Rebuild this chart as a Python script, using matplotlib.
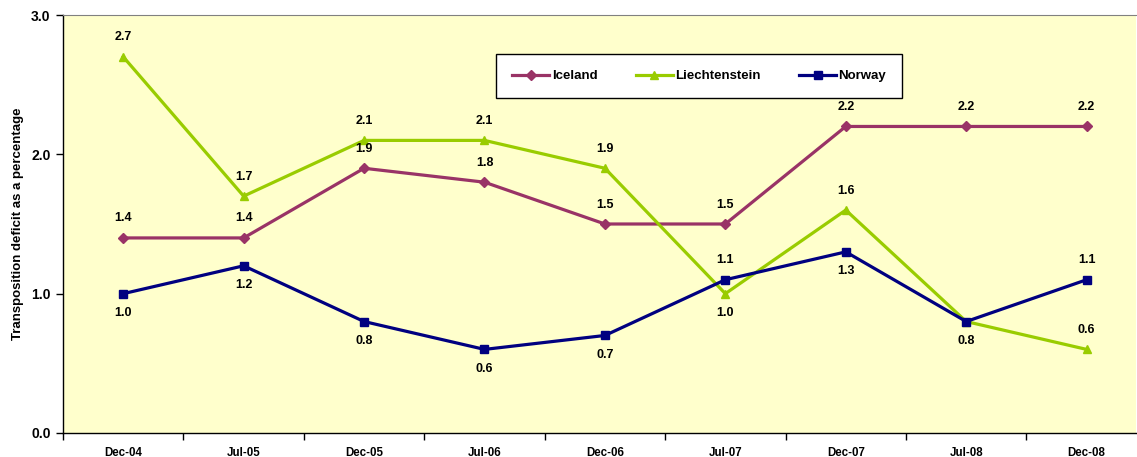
import matplotlib.pyplot as plt

plt.rcParams["font.family"] = ["Liberation Sans", "DejaVu Sans"]
plt.rcParams["font.weight"] = "bold"

periods = ["Dec-04", "Jul-05", "Dec-05", "Jul-06", "Dec-06", "Jul-07", "Dec-07", "Jul-08", "Dec-08"]
iceland = [1.4, 1.4, 1.9, 1.8, 1.5, 1.5, 2.2, 2.2, 2.2]
liechtenstein = [2.7, 1.7, 2.1, 2.1, 1.9, 1.0, 1.6, 0.8, 0.6]
norway = [1.0, 1.2, 0.8, 0.6, 0.7, 1.1, 1.3, 0.8, 1.1]

# where each data label goes: "a" above, "b" below, None hidden
iceland_pos = ["a"] * 9
liechtenstein_pos = ["a", "a", "a", "a", "a", "b", "a", None, "a"]
norway_pos = ["b", "b", "b", "b", "b", "a", "b", "b", "a"]

series = [
    ("Iceland", iceland, iceland_pos, "#993366", "D", 5),
    ("Liechtenstein", liechtenstein, liechtenstein_pos, "#99CC00", "^", 6),
    ("Norway", norway, norway_pos, "#000080", "s", 5.5),
]

fig = plt.figure(figsize=(11.37, 4.57), dpi=100)
ax = fig.add_axes([63 / 1137, 1 - 433 / 457, 1073 / 1137, 418 / 457])
ax.set_facecolor("#FFFFCC")

x = list(range(len(periods)))
for name, vals, pos, color, marker, ms in series:
    ax.plot(x, vals, color=color, lw=2.3, marker=marker, ms=ms, label=name)
    for xi, v, p in zip(x, vals, pos):
        if p is None:
            continue
        dy = 14 if p == "a" else -14
        ax.annotate(f"{v:.1f}", (xi, v), xytext=(0, dy), textcoords="offset points",
                    ha="center", va="center", fontsize=9, fontweight="bold")

ax.set_yticks([0, 1, 2, 3])
ax.set_yticklabels([f"{t:.1f}" for t in [0, 1, 2, 3]], fontsize=10, fontweight="bold")
ax.set_xticks(x)
ax.set_xticklabels(periods, fontsize=8.3, fontweight="bold")
ax.set_xticks([i + 0.5 for i in range(-1, 9)], minor=True)
ax.set_xlim(-0.5, 8.41)
ax.set_ylim(0, 3.0)
ax.tick_params(axis="x", which="major", length=0, pad=10)
ax.tick_params(axis="x", which="minor", length=5, direction="out", width=1)
ax.tick_params(axis="y", length=5, direction="out", width=1, pad=4)

ax.spines["right"].set_visible(False)
ax.spines["top"].set_color("#808080")
ax.spines["left"].set_linewidth(1)
ax.spines["bottom"].set_linewidth(1)

ax.set_ylabel("Transposition deficit as a percentage", fontsize=9.5, fontweight="bold", labelpad=5)

leg = ax.legend(loc="center", bbox_to_anchor=(0.593, 0.854), ncol=3, frameon=True,
                fancybox=False, edgecolor="black", framealpha=1,
                columnspacing=2.9, handlelength=2.8, borderpad=1.2, handletextpad=0.2,
                prop={"weight": "bold", "size": 9.5})
leg.get_frame().set_linewidth(1)

fig.savefig("out.png", dpi=100)
